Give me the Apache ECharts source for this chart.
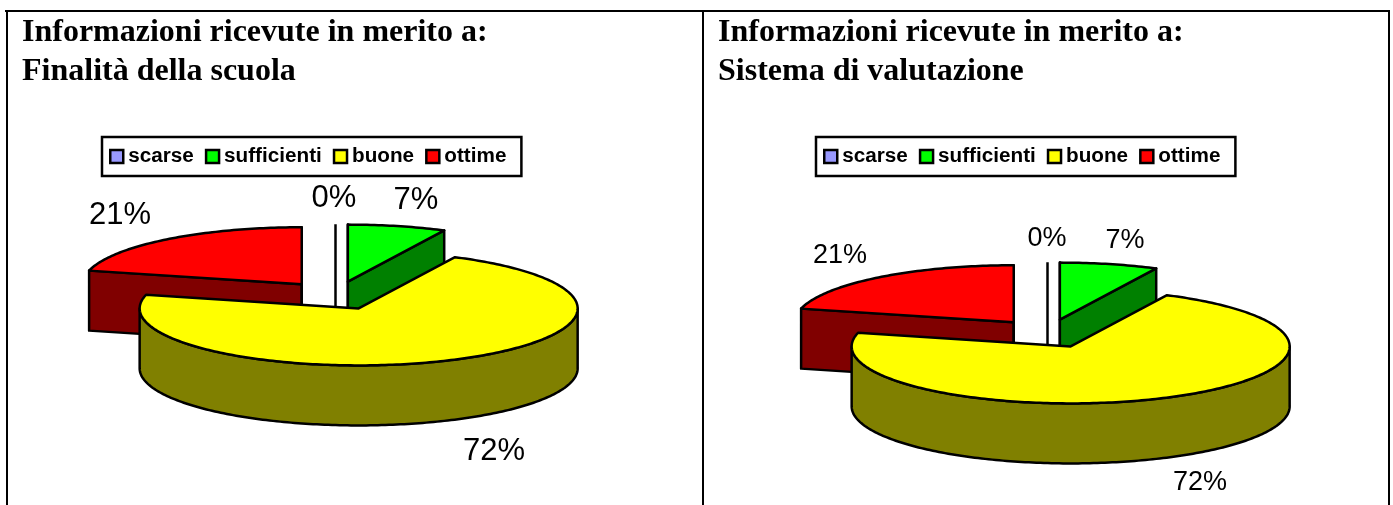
<!DOCTYPE html>
<html><head><meta charset="utf-8">
<style>html,body{margin:0;padding:0;background:#fff}#c{width:1393px;height:505px}</style>
<script src="https://cdn.jsdelivr.net/npm/echarts@6/dist/echarts.min.js"></script>
</head><body><div id="c"></div>
<script>
const categories = ['scarse', 'sufficienti', 'buone', 'ottime'];
const valuesFinalita = [0, 7.25, 71.6, 21.15];
const valuesValutazione = [0, 7.25, 71.6, 21.15];
const titleFinalita = 'Informazioni ricevute in merito a:\nFinalità della scuola';
const titleValutazione = 'Informazioni ricevute in merito a:\nSistema di valutazione';
const topColors = ['#9999ff', '#00ff00', '#ffff00', '#ff0000'];
const sideColors = ['#4c4c80', '#008000', '#808000', '#800000'];

const panels = [
  { values: valuesFinalita, cx: 335.5, cy: 295.5, rx: 219, ry: 57, depth: 60, explode: 0.25, font: 31,
    labels: [[334, 198], [416, 200], [494, 451], [120, 215]] },
  { values: valuesValutazione, cx: 1047.5, cy: 333.5, rx: 219, ry: 57, depth: 60, explode: 0.25, font: 27,
    labels: [[1047, 239], [1125, 241], [1200, 483], [840, 256]] }
];
const drawOrder = [3, 0, 1, 2];

function slicePieces(p, i) {
  const total = p.values.reduce((a, b) => a + b, 0);
  let before = 0;
  for (let k = 0; k < i; k++) before += p.values[k];
  const a0 = before / total * 360, a1 = (before + p.values[i]) / total * 360, mid = (a0 + a1) / 2;
  const rad = d => d * Math.PI / 180;
  const ox = p.cx + Math.sin(rad(mid)) * p.rx * p.explode;
  const oy = p.cy - Math.cos(rad(mid)) * p.ry * p.explode;
  const rim = d => [ox + Math.sin(rad(d)) * p.rx, oy - Math.cos(rad(d)) * p.ry];
  const down = pt => [pt[0], pt[1] + p.depth];
  const line = { stroke: '#000', lineWidth: 2.5, lineJoin: 'round' };
  const children = [];
  const poly = (pts, fill) => children.push({ type: 'polygon', shape: { points: pts }, style: Object.assign({ fill }, line) });

  if (a1 - a0 === 0) {
    children.push({ type: 'line', shape: { x1: ox, y1: oy - p.ry, x2: ox, y2: oy + p.depth }, style: line });
  } else {
    const apex = [ox, oy];
    if (a0 > 180 && a0 < 360 || a0 === 0) poly([apex, rim(a0), down(rim(a0)), down(apex)], sideColors[i]);
    if (a1 > 0 && a1 <= 180 || a1 === 360) poly([apex, rim(a1), down(rim(a1)), down(apex)], sideColors[i]);
    const s = Math.max(a0, 90), e = Math.min(a1, 270);
    if (e > s) {
      const upper = [], lower = [];
      for (let d = s; d < e; d += 1) { upper.push(rim(d)); lower.push(down(rim(d))); }
      upper.push(rim(e)); lower.push(down(rim(e)));
      poly(upper.concat(lower.reverse()), sideColors[i]);
    }
    const topPts = [apex];
    for (let d = a0; d < a1; d += 1) topPts.push(rim(d));
    topPts.push(rim(a1));
    poly(topPts, topColors[i]);
  }
  children.push({
    type: 'text',
    style: {
      x: p.labels[i][0], y: p.labels[i][1],
      text: Math.round(p.values[i] / total * 100) + '%',
      fill: '#000', font: p.font + 'px "Liberation Sans"',
      align: 'center', verticalAlign: 'middle'
    }
  });
  return { type: 'group', children };
}

const series = [];
panels.forEach(p => {
  drawOrder.forEach((i, z) => {
    series.push({
      type: 'custom', name: categories[i], coordinateSystem: 'none', silent: true, animation: false,
      z: 2 + z,
      itemStyle: { color: topColors[i] },
      data: [[p.values[i]]],
      renderItem: () => slicePieces(p, i)
    });
  });
});

const titleStyle = { fontFamily: '"Liberation Serif"', fontWeight: 'bold', fontSize: 32, lineHeight: 39, color: '#000' };
const legendBase = {
  data: categories, orient: 'horizontal', top: 137, icon: 'rect', itemWidth: 13, itemHeight: 13, itemGap: 11,
  selectedMode: false, backgroundColor: '#fff', borderColor: '#000', borderWidth: 2.5, padding: [9, 15, 9, 7],
  itemStyle: { borderColor: '#000', borderWidth: 2.5 },
  textStyle: { fontFamily: '"Liberation Sans"', fontWeight: 'bold', fontSize: 20.7, color: '#000' }
};
const rule = (x1, y1, x2, y2) => ({ type: 'line', shape: { x1, y1, x2, y2 }, style: { stroke: '#000', lineWidth: 2 }, z: 1 });

echarts.init(document.getElementById('c'), null, { renderer: 'canvas' }).setOption({
  animation: false,
  backgroundColor: '#fff',
  title: [
    { text: titleFinalita, left: 22, top: 13, padding: 0, textStyle: titleStyle },
    { text: titleValutazione, left: 718, top: 13, padding: 0, textStyle: titleStyle }
  ],
  legend: [
    Object.assign({}, legendBase, { left: 102 }),
    Object.assign({}, legendBase, { left: 816 })
  ],
  graphic: [rule(5, 11, 1390, 11), rule(7, 11, 7, 505), rule(703, 11, 703, 505), rule(1389, 11, 1389, 505)],
  series
});
</script></body></html>
